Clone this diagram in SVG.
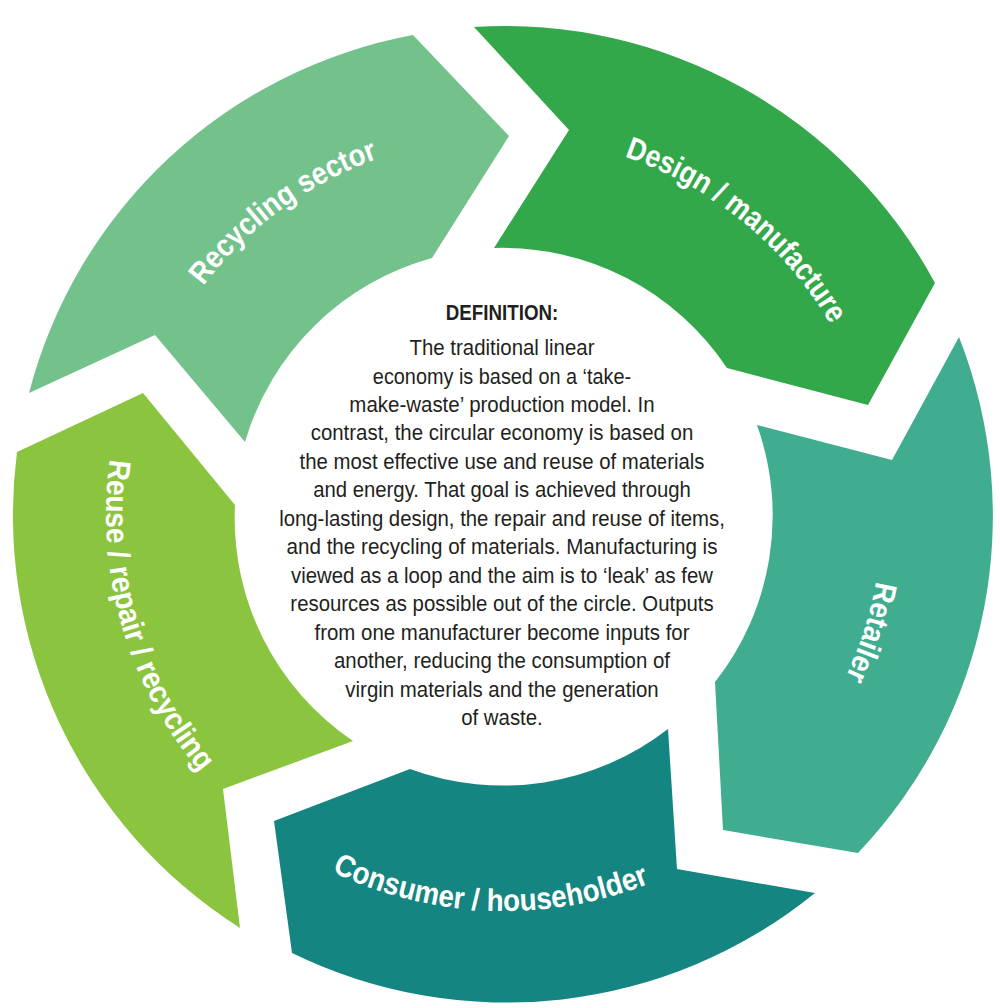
<svg xmlns="http://www.w3.org/2000/svg" xmlns:xlink="http://www.w3.org/1999/xlink" width="1000" height="1008" viewBox="0 0 1000 1008">
<style>
.lbl{font-family:"Liberation Sans Narrow","Liberation Sans",Arial,sans-serif;font-weight:bold;font-size:31px;fill:#ffffff;}
.def{font-family:"Liberation Sans Narrow","Liberation Sans",Arial,sans-serif;font-weight:bold;font-size:22.5px;fill:#231f20;}
.body{font-family:"Liberation Sans Narrow","Liberation Sans",Arial,sans-serif;font-size:22.5px;fill:#231f20;}
</style>
<defs>
<path id="pRec" d="M130.55,456.52 A378,378 0 0 1 562.48,141.55"/>
<path id="pDes" d="M465.47,138.97 A378,378 0 0 1 880.03,476.47"/>
<path id="pRet" d="M840.05,341.93 A378,378 0 0 1 677.07,851.05"/>
<path id="pCon" d="M213.91,784.57 A396,396 0 0 0 773.57,805.09"/>
<path id="pReu" d="M155.57,322.65 A398,398 0 0 0 311.65,863.43"/>
</defs>
<rect width="1000" height="1008" fill="#ffffff"/>
<g id="connectors"/>
<g id="recycling-sector">
<path d="M29,393 A489,489 0 0 1 413,35 L509,136 L432,258 A269,269 0 0 0 245,442 L155,335 Z" fill="#73c28c"/>
<text class="lbl"><textPath xlink:href="#pRec" href="#pRec" startOffset="50%" text-anchor="middle" textLength="219" lengthAdjust="spacingAndGlyphs">Recycling sector</textPath></text>
</g>
<g id="design-manufacture">
<path d="M474,27 A489,489 0 0 1 935,283 L868,405 L727,368 A269,269 0 0 0 494,248 L569,130 Z" fill="#32a84a"/>
<text class="lbl"><textPath xlink:href="#pDes" href="#pDes" startOffset="50%" text-anchor="middle" textLength="271" lengthAdjust="spacingAndGlyphs">Design / manufacture</textPath></text>
</g>
<g id="retailer">
<path d="M959,337 A489,489 0 0 1 858,853 L723,830 L715,682 A269,269 0 0 0 757,425 L892,460 Z" fill="#40ad90"/>
<text class="lbl"><textPath xlink:href="#pRet" href="#pRet" startOffset="50%" text-anchor="middle" textLength="101" lengthAdjust="spacingAndGlyphs">Retailer</textPath></text>
</g>
<g id="consumer-householder">
<path d="M815,893 A489,489 0 0 1 292,953 L274,821 L410,769 A269,269 0 0 0 668,729 L677,869 Z" fill="#158582"/>
<text class="lbl"><textPath xlink:href="#pCon" href="#pCon" startOffset="50%" text-anchor="middle" textLength="327" lengthAdjust="spacingAndGlyphs">Consumer / householder</textPath></text>
</g>
<g id="reuse-repair-recycling">
<path d="M240,928 A489,489 0 0 1 17,452 L143,393 L235,505 A269,269 0 0 0 353,741 L223,789 Z" fill="#8bc43f"/>
<text class="lbl"><textPath xlink:href="#pReu" href="#pReu" startOffset="50%" text-anchor="middle" textLength="336" lengthAdjust="spacingAndGlyphs">Reuse / repair / recycling</textPath></text>
</g>
<g id="definition" text-anchor="middle">
<text class="def" x="502" y="320" textLength="112.6" lengthAdjust="spacingAndGlyphs">DEFINITION:</text>
<text class="body" x="502" y="355" textLength="185" lengthAdjust="spacingAndGlyphs">The traditional linear</text>
<text class="body" x="502" y="383.5" textLength="258.3" lengthAdjust="spacingAndGlyphs">economy is based on a ‘take-</text>
<text class="body" x="502" y="411.9" textLength="305.3" lengthAdjust="spacingAndGlyphs">make-waste’ production model. In</text>
<text class="body" x="502" y="440.4" textLength="382.6" lengthAdjust="spacingAndGlyphs">contrast, the circular economy is based on</text>
<text class="body" x="502" y="468.8" textLength="405" lengthAdjust="spacingAndGlyphs">the most effective use and reuse of materials</text>
<text class="body" x="502" y="497.3" textLength="377.7" lengthAdjust="spacingAndGlyphs">and energy. That goal is achieved through</text>
<text class="body" x="502" y="525.8" textLength="445.7" lengthAdjust="spacingAndGlyphs">long-lasting design, the repair and reuse of items,</text>
<text class="body" x="502" y="554.2" textLength="431" lengthAdjust="spacingAndGlyphs">and the recycling of materials. Manufacturing is</text>
<text class="body" x="502" y="582.7" textLength="422" lengthAdjust="spacingAndGlyphs">viewed as a loop and the aim is to ‘leak’ as few</text>
<text class="body" x="502" y="611.1" textLength="423.3" lengthAdjust="spacingAndGlyphs">resources as possible out of the circle. Outputs</text>
<text class="body" x="502" y="639.6" textLength="375" lengthAdjust="spacingAndGlyphs">from one manufacturer become inputs for</text>
<text class="body" x="502" y="668" textLength="336" lengthAdjust="spacingAndGlyphs">another, reducing the consumption of</text>
<text class="body" x="502" y="696.5" textLength="313.3" lengthAdjust="spacingAndGlyphs">virgin materials and the generation</text>
<text class="body" x="502" y="725" textLength="81.6" lengthAdjust="spacingAndGlyphs">of waste.</text>
</g>
</svg>
